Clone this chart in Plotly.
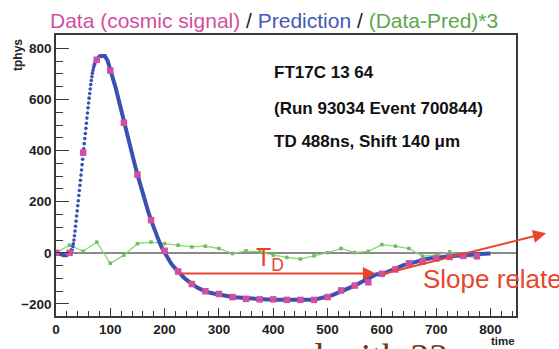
import numpy as np
import plotly.graph_objects as go

# Data samples (every 25 ns)
data_time = [0, 25, 50, 75, 100, 125, 150, 175, 200, 225, 250, 275, 300, 325, 350, 375,
             400, 425, 450, 475, 500, 525, 550, 575, 600, 625, 650, 675, 700, 725, 750, 775]
data_value = [0, 0, 392, 755, 713, 509, 306, 128, 8, -73, -122, -150, -161, -173, -180, -182,
              -182, -184, -184, -184, -173, -147, -128, -115, -82, -65, -41, -33, -22, -16, -12, -13]

# Predicted pulse shape
pred_time = [0, 5, 10, 15, 20, 25,
             26, 27, 28, 29, 30, 31, 32, 33, 34, 35, 36, 37, 38, 39, 40,
             41, 42, 43, 44, 45, 46, 47, 48, 49, 50, 51, 52, 53, 54, 55,
             56, 57, 58, 59, 60, 61, 62, 63, 64, 65, 66, 67, 68, 69, 70,
             71, 72, 73, 74, 75, 76, 77, 78, 79, 80,
             82, 85, 88, 90, 95, 100, 105, 110, 115, 120, 125, 130, 135, 140, 145,
             150, 155, 160, 165, 170, 175, 180, 185, 190, 195, 200, 205, 210, 215,
             220, 225, 230, 235, 240, 245, 250, 255, 260, 265, 270, 275, 280, 290,
             300, 310, 320, 330, 340, 350, 375, 400, 425, 450, 470, 480, 490, 500,
             510, 520, 530, 540, 550, 560, 570, 580, 590, 600, 610, 620, 630, 640,
             650, 660, 670, 680, 690, 700, 720, 740, 760, 780, 800]
pred_value = [0, -2, -6, -10, -9, -2,
              -1, 2, 6, 11, 17, 25, 35, 50, 67, 85, 104, 124, 144, 164, 184,
              204, 224, 244, 264, 284, 304, 324, 345, 366, 387, 407, 427, 447, 467, 487,
              507, 527, 547, 567, 586, 605, 623, 641, 658, 674, 689, 702, 713, 723, 731,
              738, 744, 749, 753, 757, 760, 763, 765, 767, 768,
              770, 771, 772, 770, 752, 720, 685, 645, 602, 557, 512, 470, 428, 387, 346,
              306, 267, 230, 194, 160, 128, 98, 70, 44, 20, 0, -18, -35, -50,
              -63, -75, -86, -96, -105, -114, -122, -129, -136, -141, -146, -150, -154, -159,
              -164, -168, -171, -174, -176, -178, -181, -183, -184, -184, -183, -181, -177, -171,
              -164, -156, -148, -138, -128, -117, -106, -95, -84, -84, -74, -65, -56, -48,
              -43, -36, -30, -25, -21, -20, -14, -10, -7, -5, -3]

# (Data - Pred) * 3
diff_time = [0, 25, 50, 75, 100, 125, 150, 175, 200, 225, 250, 275, 300, 325, 350, 375,
             400, 425, 450, 475, 500, 525, 550, 575, 600, 625, 650, 675, 700, 725, 750, 775]
diff_value = [0, 30, 6, 42, -41, -9, 36, 42, 36, 30, 23, 26, 17, -3, 8, 4,
              -9, -18, -24, -12, 1, 17, 1, 6, 32, 26, 17, -13, -9, 4, -13, -19]

PINK = "#d0509f"
BLUE = "#3a50b2"
GREEN = "#6cbf5c"
RED = "#e8452f"
FONT = "Liberation Sans, Arial, sans-serif"

pt = np.array(pred_time, dtype=float)
pv = np.array(pred_value, dtype=float)
# the steep leading edge is shown as individual samples, the rest as a thick line
edge = (pt > 30) & (pt < 75)
line_v = np.where(edge, np.nan, pv)

fig = go.Figure()
fig.add_trace(go.Scatter(x=diff_time, y=diff_value, mode="lines+markers",
                         line=dict(color="#8ad47a", width=1.3),
                         marker=dict(color=GREEN, size=3.5, symbol="square"),
                         hoverinfo="skip", showlegend=False))
fig.add_trace(go.Scatter(x=pt, y=line_v, mode="lines", connectgaps=False,
                         line=dict(color=BLUE, width=4), showlegend=False))
fig.add_trace(go.Scatter(x=pt[edge], y=pv[edge], mode="markers",
                         marker=dict(color=BLUE, size=3.6), showlegend=False))
fig.add_trace(go.Scatter(x=data_time, y=data_value, mode="markers",
                         marker=dict(color=PINK, size=6.5, symbol="square"),
                         showlegend=False))

axis_common = dict(showline=True, mirror=True, linecolor="#3a3a3a", linewidth=1.5,
                   ticks="inside", tickcolor="#3a3a3a", tickwidth=1.3,
                   showgrid=False, tickfont=dict(family=FONT, size=13.5, color="#222", weight="bold"))

fig.update_xaxes(range=[0, 847], tickvals=[0, 100, 200, 300, 400, 500, 600, 700, 800],
                 ticklen=8, zeroline=False,
                 minor=dict(ticks="inside", dtick=20, ticklen=5, tickcolor="#3a3a3a", tickwidth=1.2),
                 **axis_common)
fig.update_yaxes(range=[-247, 852], tickvals=[-200, 0, 200, 400, 600, 800],
                 ticklen=13, zeroline=True, zerolinecolor="#8a8a8a", zerolinewidth=1.5,
                 minor=dict(ticks="inside", dtick=50, ticklen=7, tickcolor="#3a3a3a", tickwidth=1.2),
                 **axis_common)

title = (f"<span style='color:{PINK}'>Data (cosmic signal)</span> / "
         f"<span style='color:#4658b8'>Prediction</span> / "
         f"<span style='color:#5ea84c'>(Data-Pred)*3</span>")

ann = []
ann.append(dict(text=title, x=(274 - 56) / 460, y=(320 - 20) / 285, xref="paper", yref="paper",
                xanchor="center", yanchor="middle", showarrow=False,
                font=dict(family=FONT, size=21, color="#222")))
ann.append(dict(text="tphys", x=(18 - 56) / 460, y=(320 - 37) / 285, xref="paper", yref="paper",
                xanchor="center", yanchor="top", textangle=-90, showarrow=False,
                font=dict(family=FONT, size=12, color="#222", weight="bold")))
ann.append(dict(text="time", x=(517 - 56) / 460, y=(320 - 345) / 285, xref="paper", yref="paper",
                xanchor="right", yanchor="middle", showarrow=False,
                font=dict(family=FONT, size=11.5, color="#222", weight="bold")))
for txt, ypx in [("FT17C 13 64", 73), ("(Run 93034 Event 700844)", 110),
                 ("TD 488ns, Shift 140 \u03bcm", 143)]:
    ann.append(dict(text=txt, x=(272 - 56) / 460, y=(320 - ypx) / 285, xref="paper", yref="paper",
                    xanchor="left", yanchor="middle", showarrow=False,
                    font=dict(family=FONT, size=17, color="#111", weight="bold")))

# drift-time arrow and label
ann.append(dict(text="", x=589, y=-81, xref="x", yref="y", axref="x", ayref="y",
                ax=228, ay=-81, showarrow=True, arrowhead=2, arrowsize=1.3,
                arrowwidth=2, arrowcolor=RED))
ann.append(dict(text="T<sub>D</sub>", x=(254 - 56) / 460, y=(320 - 262) / 285,
                xref="paper", yref="paper", xanchor="left", yanchor="middle",
                showarrow=False, font=dict(family=FONT, size=25, color=RED)))
# trailing-edge slope arrow
ann.append(dict(text="", x=(546 - 56) / 460, y=(320 - 236) / 285, xref="paper", yref="paper",
                axref="pixel", ayref="pixel", ax=-164, ay=41, showarrow=True,
                arrowhead=2, arrowsize=1.3, arrowwidth=2, arrowcolor=RED))
ann.append(dict(text="Slope related", x=(421 - 56) / 460, y=(320 - 282) / 285,
                xref="paper", yref="paper", xanchor="left", yanchor="middle",
                showarrow=False, font=dict(family=FONT, size=26, color=RED)))

# slide caption running below the frame (mostly outside the page)
ann.append(dict(text="compared with 32", x=(172 - 56) / 460, y=(320 - 362) / 285,
                xref="paper", yref="paper", xanchor="left", yanchor="middle",
                showarrow=False, font=dict(family="Liberation Serif, Times New Roman, serif",
                                           size=38, color="#6e3a12")))

fig.update_layout(width=559, height=349, margin=dict(l=56, r=43, t=35, b=29),
                  paper_bgcolor="white", plot_bgcolor="white", annotations=ann)

fig.write_html("out.html")
